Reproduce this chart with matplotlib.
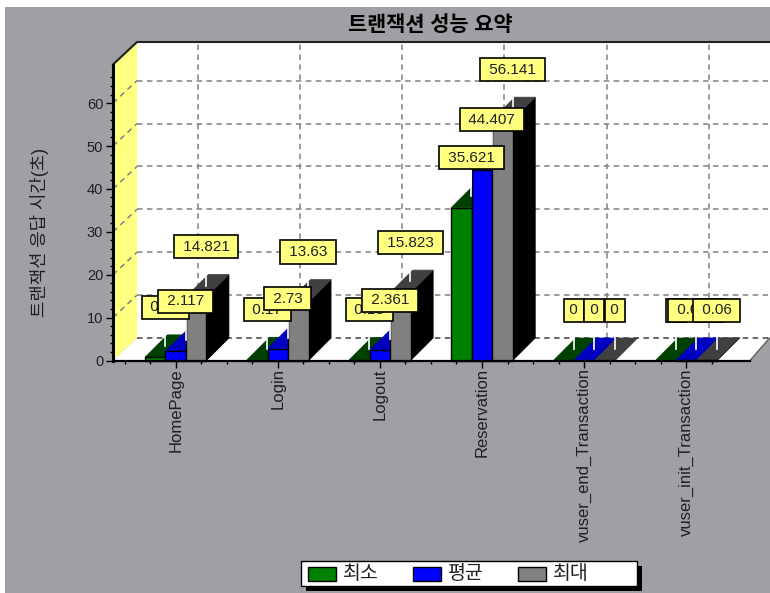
import matplotlib
matplotlib.use("Agg")
import matplotlib.pyplot as plt
from matplotlib.patches import Polygon, Rectangle

plt.rcParams['font.family'] = ['Liberation Sans', 'Noto Sans CJK KR']

categories = ["HomePage", "Login", "Logout", "Reservation",
              "vuser_end_Transaction", "vuser_init_Transaction"]
min_values = [0.73, 0.17, 0.13, 35.621, 0, 0]
avg_values = [2.117, 2.73, 2.361, 44.407, 0, 0.018]
max_values = [14.821, 13.63, 15.823, 56.141, 0, 0.06]
y_ticks = [0, 10, 20, 30, 40, 50, 60]

title = "트랜잭션 성능 요약"
y_label = "트랜잭션 응답 시간(초)"
series_names = ["최소", "평균", "최대"]

BG = "#a09fa4"
YELLOW = "#ffff80"
GRID = "#808080"
front_colors = ["#008000", "#0000ff", "#808080"]
top_colors = ["#004000", "#0000c0", "#404040"]
side_colors = ["#004000", "#000080", "#000000"]

W, H = 770, 593
PX_X = 102.1  # pixels per category
PX_Y = 4.29   # pixels per second
dx = 22.5 / PX_X
dy = 22.5 / PX_Y
wall_dx = 24 / PX_X
bar_w = 20.5 / PX_X
label_dx = 10 / PX_X
label_gap = 16 / PX_Y

fig = plt.figure(figsize=(W / 100, H / 100), dpi=100, facecolor="white")

# page background, title and legend in pixel coordinates
page = fig.add_axes([0, 0, 1, 1], zorder=0)
page.set_xlim(0, W)
page.set_ylim(H, 0)
page.axis("off")
page.add_patch(Rectangle((5, 7), W, H, facecolor=BG, edgecolor="none"))
page.text(430, 25, title, fontsize=15, fontweight="bold", ha="center", va="center")
page.text(40, 232, y_label, fontsize=12.8, rotation=90, ha="center", va="center", color="#202020")

page.add_patch(Rectangle((306, 566), 336, 25, facecolor="black", edgecolor="none"))
page.add_patch(Rectangle((301, 561), 336, 25, facecolor="white", edgecolor="black", lw=1))
for name, color, sx in zip(series_names, front_colors, [308, 413, 518]):
    page.add_patch(Rectangle((sx, 567), 28, 14, facecolor=color, edgecolor="black", lw=1))
    page.text(sx + 35, 574, name, fontsize=14, ha="left", va="center", color="#202020")

# chart axes
ax = fig.add_axes([113 / W, (H - 360.5) / H, 637 / W, 296 / H], zorder=1)
ax.patch.set_alpha(0)
xl = -(175.7 - 113) / PX_X
xr = xl + 637 / PX_X
yt = 296 / PX_Y
ax.set_xlim(xl, xr)
ax.set_ylim(0, yt)

# walls and floor
ax.add_patch(Rectangle((xl + wall_dx, dy), xr - xl + 1, yt, facecolor="white", edgecolor="none",
                       zorder=1, clip_on=False))
ax.add_patch(Polygon([(xl, 0), (xl + wall_dx, dy), (xl + wall_dx, yt + dy), (xl, yt)], facecolor=YELLOW,
                     edgecolor="none", zorder=1, clip_on=False))
ax.plot([xl, xl + wall_dx, xr + 1], [yt, yt + dy, yt + dy], color="#202020", lw=1.5, zorder=3, clip_on=False)

dash = (0, (3.6, 2.9))
for t in y_ticks[1:]:
    ax.plot([xl + wall_dx, xr + 1], [t + dy, t + dy], color=GRID, lw=1.1, ls=dash, zorder=2, clip_on=False)
    ax.plot([xl, xl + wall_dx], [t, t + dy], color=GRID, lw=1.1, ls=dash, zorder=2, clip_on=False)
for i in range(len(categories)):
    ax.plot([i + dx, i + dx], [dy, yt + dy], color=GRID, lw=1.1, ls=dash, zorder=2, clip_on=False)

ax.add_patch(Polygon([(xl, 0), (xl + wall_dx, dy), (xr + dx * 0.87, dy), (xr, 0)], facecolor="white",
                     edgecolor="none", zorder=3, clip_on=False))
ax.plot([xl + wall_dx, xr + dx * 0.87], [dy, dy], color="#404040", lw=1.1, ls=dash, zorder=3, clip_on=False)
ax.plot([xr, xr + dx * 0.87], [0, dy], color="#606060", lw=1, zorder=3, clip_on=False)

# bars, back to front
series = [min_values, avg_values, max_values]
z = 4
for i in range(len(categories)):
    for s, values in enumerate(series):
        v = values[i]
        x0 = i + (s - 1.5) * bar_w
        x1 = x0 + bar_w
        ax.add_patch(Polygon([(x1, 0), (x1 + dx, dy), (x1 + dx, v + dy), (x1, v)],
                             facecolor=side_colors[s], edgecolor=side_colors[s], lw=0.5,
                             zorder=z, clip_on=False))
        ax.add_patch(Polygon([(x0, v), (x0 + dx, v + dy), (x1 + dx, v + dy), (x1, v)],
                             facecolor=top_colors[s], edgecolor=top_colors[s], lw=0.5,
                             zorder=z, clip_on=False))
        if v > 0:
            ax.add_patch(Rectangle((x0, 0), bar_w, v, facecolor=front_colors[s], edgecolor="black",
                                   lw=1, zorder=z + 0.5, clip_on=False))
        z += 1

# value labels with white leader lines
z = 40
for i in range(len(categories)):
    for s, values in enumerate(series):
        v = values[i]
        cx = i + (s - 1) * bar_w + label_dx
        ax.plot([cx, cx], [v + dy / 2, v + dy + label_gap], color="white", lw=1.2, zorder=30, clip_on=False)
        txt = f"\u200a{v:g}\u200a" if v == 0 else f" {v:g} "
        ax.annotate(txt, xy=(cx, v + dy + label_gap), xytext=(0, 3.3), textcoords="offset points",
                    ha="center", va="bottom", fontsize=11, color="#202020", zorder=z, annotation_clip=False,
                    bbox=dict(boxstyle="square,pad=0.3", facecolor=YELLOW, edgecolor="black", lw=1.2))
        z += 1

# axes lines and ticks
for side in ["top", "right"]:
    ax.spines[side].set_visible(False)
ax.spines["left"].set_linewidth(2.2)
ax.spines["bottom"].set_linewidth(1.6)
for sp in ax.spines.values():
    sp.set_zorder(35)

ax.set_xticks(range(len(categories)))
ax.set_xticklabels(categories, rotation=90, fontsize=12, color="#202020")
ax.set_xticks([i + k * 0.25 for i in range(len(categories)) for k in (-2, -1, 1)], minor=True)
ax.set_yticks(y_ticks)
ax.set_yticklabels([str(t) for t in y_ticks], fontsize=10.5, color="#202020")
ax.set_yticks([t for t in range(0, 68, 2) if t % 10], minor=True)
ax.tick_params(axis="both", which="major", length=5, width=1, pad=2)
ax.tick_params(axis="x", which="major", pad=0.5)
ax.tick_params(axis="both", which="minor", length=2.5, width=1)

fig.savefig("out.png", dpi=100)
